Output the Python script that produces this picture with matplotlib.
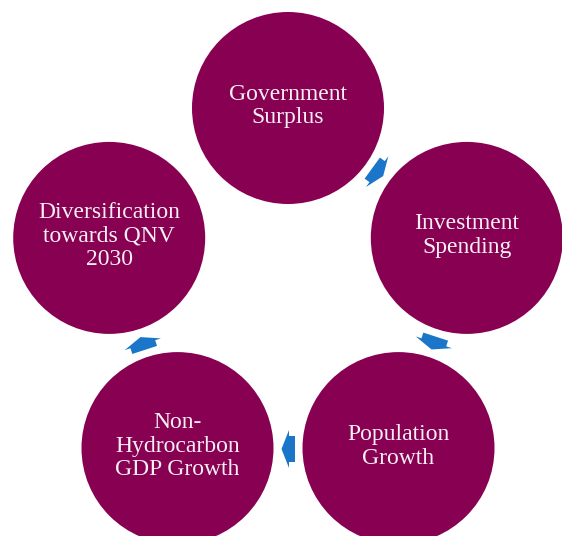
import numpy as np
import matplotlib
matplotlib.use("Agg")
import matplotlib.pyplot as plt
from matplotlib.patches import Circle, Polygon

# cycle steps, clockwise from the top
labels = [
    "Government\nSurplus",
    "Investment\nSpending",
    "Population\nGrowth",
    "Non-\nHydrocarbon\nGDP Growth",
    "Diversification\ntowards QNV\n2030",
]
# arrows drawn after these steps (the one back to the top is missing)
arrow_after = [0, 1, 2, 3]

node_color = "#870052"
arrow_color = "#1B75C8"
text_color = "#F7EFF3"

W, H = 562, 536
cx, cy = 288, 296        # centre of the cycle, pixels
ring_r = 188             # distance of circle centres
node_r = 96
arrow_ring = 153

fig = plt.figure(figsize=(W / 100, H / 100), dpi=100)
ax = fig.add_axes([0, 0, 1, 1])
ax.set_xlim(0, W)
ax.set_ylim(H, 0)
ax.set_aspect("equal")
ax.axis("off")

n = len(labels)
for i, lab in enumerate(labels):
    th = np.radians(360 / n * i)
    x = cx + ring_r * np.sin(th)
    y = cy - ring_r * np.cos(th)
    ax.add_patch(Circle((x, y), node_r, color=node_color, lw=0))
    ax.text(x, y - 2, lab, ha="center", va="center", color=text_color,
            fontsize=17, family="Liberation Serif", linespacing=1.18)

# small block arrows between the circles, pointing clockwise
shape = [(-7, -13), (-1, -13), (-1, -19), (6.5, 0), (-1, 19), (-1, 13), (-7, 13)]
for i in arrow_after:
    th = np.radians(360 / n * (i + 0.5))
    ax_x = cx + arrow_ring * np.sin(th)
    ax_y = cy - arrow_ring * np.cos(th)
    d = np.array([np.cos(th), np.sin(th)])     # tangent, clockwise on screen
    p = np.array([-d[1], d[0]])
    pts = [(ax_x + u * d[0] + v * p[0], ax_y + u * d[1] + v * p[1]) for u, v in shape]
    ax.add_patch(Polygon(pts, closed=True, color=arrow_color, lw=0))

fig.savefig("out.png", dpi=100, facecolor="white")
